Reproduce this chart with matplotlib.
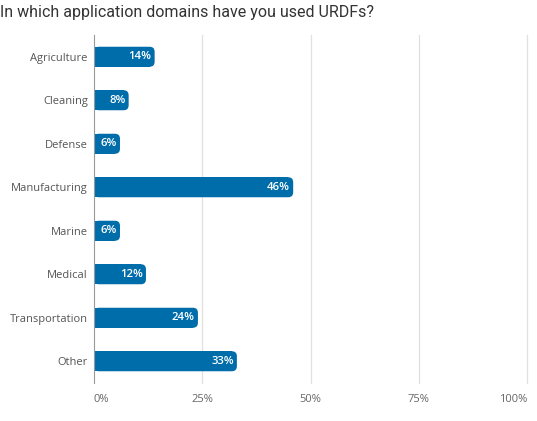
import matplotlib
matplotlib.use("Agg")
import matplotlib.pyplot as plt
from matplotlib.patches import FancyBboxPatch

categories = ["Agriculture", "Cleaning", "Defense", "Manufacturing", "Marine", "Medical", "Transportation", "Other"]
values = [14, 8, 6, 46, 6, 12, 24, 33]
xticks = [0, 25, 50, 75, 100]
xticklabels = ["0%", "25%", "50%", "75%", "100%"]

W, H = 537, 421
fig = plt.figure(figsize=(W/100, H/100), dpi=100)
L, R, T, B = 94, 527, 35, 383
ax = fig.add_axes([L/W, 1-B/H, (R-L)/W, (B-T)/H])
ax.set_xlim(0, 100)
ax.set_ylim(len(categories)-0.5, -0.5)

color = "#006dab"
bh = 0.46
xpp = 100/(R-L)
ypp = len(categories)/(B-T)
r_px = 5
r = r_px*xpp
for i, v in enumerate(values):
    ax.barh(i, max(v - r, 0), height=bh, color=color, zorder=3)
    p = FancyBboxPatch((0, i-bh/2), v, bh, boxstyle=f"round,pad=0,rounding_size={r}",
                       mutation_aspect=ypp/xpp, facecolor=color, edgecolor="none", zorder=3)
    ax.add_patch(p)
    ax.text(v - 0.7, i, f"{v}%", color="white", ha="right", va="center",
            fontsize=8.2, family="Open Sans", fontweight="semibold", zorder=4)

for x in xticks[1:]:
    ax.axvline(x, color="#e0e0e0", lw=0.9, zorder=1, clip_on=False)
for s in ["top", "right", "bottom"]:
    ax.spines[s].set_visible(False)
ax.spines["left"].set_color("#999999")
ax.spines["left"].set_zorder(5)

ax.set_yticks(range(len(categories)))
ax.set_yticklabels(categories, fontsize=8, family="Open Sans", color="#555555")
ax.tick_params(axis="y", length=0, pad=4.5)
ax.set_xticks([])
for x, lab in zip(xticks, xticklabels):
    ha = "left" if x == 0 else ("right" if x == 100 else "center")
    ax.annotate(lab, xy=(x, 0), xycoords=("data", "axes fraction"), xytext=(0, -12),
                textcoords="offset points", ha=ha, va="center", fontsize=8,
                family="Open Sans", color="#666666")

fig.text(0.0, 1-12/H, "In which application domains have you used URDFs?", fontsize=11.5,
         family="Roboto", color="#333333", ha="left", va="center")
fig.savefig("out.png", dpi=100)
